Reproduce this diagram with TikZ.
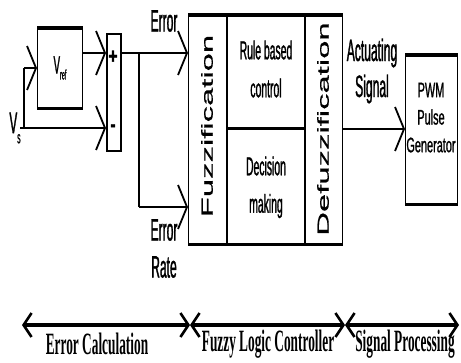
\documentclass[tikz,border=0pt]{standalone}
\usepackage{fontspec}
\setmainfont{Liberation Sans}
\newfontfamily\narA{Liberation Sans}[FakeStretch=0.39,FakeBold=1]
\newfontfamily\narC{Liberation Sans}[FakeStretch=0.40,FakeBold=1]
\newfontfamily\narB{Liberation Sans}[FakeStretch=0.52,FakeBold=1]
\newfontfamily\sgnF{Liberation Sans Bold}[FakeStretch=0.7,FakeBold=1.5]
\newfontfamily\wideF{Liberation Sans}[FakeStretch=2.05,FakeBold=0.6]
\newfontfamily\tnr{Liberation Serif}[FakeStretch=0.43]
\usetikzlibrary{arrows.meta}
\tikzset{
  thinln/.style={line width=1.3pt},
  thickln/.style={line width=3.5pt},
  wire/.style={line width=2.6pt},
  vwire/.style={line width=1.4pt},
  arr/.style={-{Straight Barb[length=9pt,width=44pt,line width=1.8pt]}},
  barr/.style={line width=3.4pt,{Straight Barb[length=8pt,width=24pt,line width=2.6pt]}-{Straight Barb[length=8pt,width=24pt,line width=2.6pt]}},
  lbl/.style={inner sep=0pt, font=\narA\fontsize{31}{33}\selectfont},
  boxtxt/.style={inner sep=0pt, font=\narC\fontsize{26}{28}\selectfont},
  pwmtxt/.style={inner sep=0pt, font=\narB\fontsize{21}{23}\selectfont},
  vert/.style={inner sep=0pt, rotate=90, font=\wideF\fontsize{16}{18}\selectfont},
  btm/.style={inner sep=0pt, font=\tnr\bfseries\fontsize{31}{33}\selectfont},
  sgn/.style={inner sep=0pt, font=\sgnF\fontsize{22}{24}\selectfont},
}
\begin{document}
\begin{tikzpicture}[x=1pt,y=-1pt]
\useasboundingbox (0,0) rectangle (461,362);

% Vref box
\node[draw, thinln, minimum width=45pt, minimum height=79pt, inner sep=0pt, anchor=north west] (vref) at (37,28) {};
\draw[thickln] (vref.north west) -- (vref.north east);
\draw[thickln] (vref.south west) -- (vref.south east);
\node[inner sep=0pt] (vreftxt) at (60,68) {\narA\fontsize{25}{27}\selectfont V\raisebox{-6pt}{\fontsize{14}{15}\selectfont ref}};

% summing box
\node[draw, line width=2.4pt, minimum width=14pt, minimum height=117pt, inner sep=0pt, anchor=north west] (sum) at (106,33) {};
\node[sgn] (plus) at (113,57) {+};
\node[sgn] (minus) at (113,128) {-};

% Vs input
\node[inner sep=0pt] (vs) at (15,128) {\narA\fontsize{30}{32}\selectfont V\raisebox{-10pt}{\fontsize{17}{18}\selectfont s}};
\coordinate (vsstart) at (20,128);
\coordinate (vscorner) at (24,128);
\coordinate (vsup) at (24,68);
\coordinate (summinus) at (sum.west |- 0,128);
\coordinate (sumplus) at (sum.west |- 0,53);
\coordinate (vrefin) at (vref.west |- 0,68);
\coordinate (vrefout) at (vref.east |- 0,53);

\draw[wire, arr] (vsstart) -- (summinus);
\draw[vwire] (vscorner) -- (vsup);
\draw[wire, arr] (vsup) -- (vrefin);
\draw[wire, arr] (vrefout) -- (sumplus);

% Fuzzy logic controller
\node[draw, thinln, minimum width=154pt, minimum height=228pt, inner sep=0pt, anchor=north west] (flc) at (188,15) {};
\draw[thickln] (flc.north west) -- (flc.north east);
\draw[thickln] (flc.south west) -- (flc.south east);
\coordinate (d1t) at (227,15);
\coordinate (d1b) at (227,243);
\coordinate (d2t) at (305,15);
\coordinate (d2b) at (305,243);
\draw[thinln] (d1t) -- (d1b);
\draw[thinln] (d2t) -- (d2b);
\coordinate (midl) at (227,128);
\coordinate (midr) at (305,128);
\draw[line width=3pt] (midl) -- (midr);

\node[vert] (fuzz) at (207,126) {Fuzzification};
\node[vert] (defuzz) at (323,129) {Defuzzification};
\node[boxtxt] (rule) at (266,50) {Rule based};
\node[boxtxt] (control) at (266,88) {control};
\node[boxtxt] (decision) at (266,166) {Decision};
\node[boxtxt] (making) at (266,206) {making};

% error wires
\coordinate (sumout) at (sum.east |- 0,53);
\coordinate (branch) at (139,53);
\coordinate (branchdn) at (139,207);
\coordinate (fzin1) at (flc.west |- 0,53);
\coordinate (fzin2) at (flc.west |- 0,207);
\draw[wire, arr] (sumout) -- (fzin1);
\draw[vwire] (branch) -- (branchdn);
\draw[wire, arr] (branchdn) -- (fzin2);

\node[lbl] (err1) at (164,21) {Error};
\node[lbl] (err2) at (164,230) {Error};
\node[lbl] (rate) at (164,267) {Rate};

% PWM
\node[draw, thinln, minimum width=52pt, minimum height=148pt, inner sep=0pt, anchor=north west] (pwm) at (405,55) {};
\draw[thickln] (pwm.north west) -- (pwm.north east);
\draw[thickln] (pwm.south west) -- (pwm.south east);
\node[pwmtxt] (pwm1) at (431,90) {PWM};
\node[pwmtxt] (pwm2) at (431,117) {Pulse};
\node[pwmtxt] (pwm3) at (431,145) {Generator};

\coordinate (flcout) at (flc.east |- 0,129);
\coordinate (pwmin) at (pwm.west |- 0,129);
\draw[wire, arr] (flcout) -- (pwmin);
\node[lbl] (act1) at (372,53) {Actuating};
\node[lbl] (act2) at (372,89) {Signal};

% bottom ranges
\coordinate (b0) at (22,325);
\coordinate (b1) at (190,325);
\coordinate (b2) at (345,325);
\coordinate (b3) at (459,325);
\draw[barr] (b0) -- (b1);
\draw[barr] (b1) -- (b2);
\draw[barr] (b2) -- (b3);
\node[btm] (ec) at (97,344) {Error Calculation};
\node[btm] (flct) at (268,344) {Fuzzy Logic Controller};
\node[btm] (sp) at (405,344) {Signal Processing};
\end{tikzpicture}
\end{document}
